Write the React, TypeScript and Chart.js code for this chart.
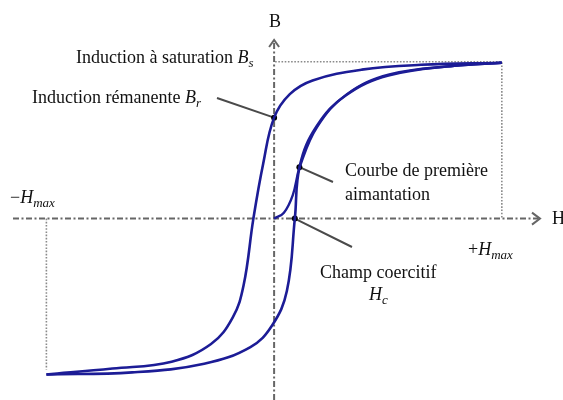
import React, { useEffect, useRef } from "react";
import { Chart, registerables } from "chart.js";

Chart.register(...registerables);

// H in units of Hmax, B in units of Bs
const descendingH = [1.0, 0.645, 0.385, 0.169, 0.069, 0.0, -0.048, -0.091, -0.134, -0.182, -0.277, -0.45, -0.71, -1.0];
const descendingB = [1.0, 0.987, 0.956, 0.887, 0.799, 0.648, 0.352, 0.0, -0.428, -0.635, -0.805, -0.918, -0.962, -1.0];

const ascendingH = [-1.0, -0.623, -0.307, -0.104, -0.009, 0.056, 0.091, 0.113, 0.186, 0.316, 0.502, 0.792, 1.0];
const ascendingB = [-1.0, -0.987, -0.931, -0.824, -0.686, -0.465, 0.0, 0.34, 0.591, 0.792, 0.918, 0.981, 1.0];

const virginH = [0.0, 0.043, 0.082, 0.113, 0.19, 0.32, 0.506, 0.792, 1.0];
const virginB = [0.0, 0.038, 0.151, 0.333, 0.591, 0.799, 0.925, 0.981, 1.0];

// marked points: remanence Br, first-magnetisation point, coercive field Hc
const markerH = [0.0, 0.111, 0.091];
const markerB = [0.648, 0.33, 0.0];

const H_MAX = 1;
const B_SAT = 1;

const zip = (h: number[], b: number[]) => h.map((x, i) => ({ x, y: b[i] }));

type Run = { t: string; italic?: boolean; sub?: boolean };

const SERIF = '"Liberation Serif", "DejaVu Serif", serif';
const FS = 18;
const SUB = 13;

function drawRuns(ctx: CanvasRenderingContext2D, x: number, y: number, runs: Run[], align: "left" | "center" = "left") {
  const fontOf = (r: Run) => `${r.italic ? "italic " : ""}${r.sub ? SUB : FS}px ${SERIF}`;
  let total = 0;
  for (const r of runs) {
    ctx.font = fontOf(r);
    total += ctx.measureText(r.t).width;
  }
  let cx = align === "center" ? x - total / 2 : x;
  ctx.textAlign = "left";
  ctx.textBaseline = "alphabetic";
  for (const r of runs) {
    ctx.font = fontOf(r);
    ctx.fillText(r.t, cx, r.sub ? y + 4 : y);
    cx += ctx.measureText(r.t).width;
  }
}

const decorPlugin = {
  id: "decor",
  beforeDatasetsDraw(chart: any) {
    const ctx: CanvasRenderingContext2D = chart.ctx;
    const xs = chart.scales.x;
    const ys = chart.scales.y;
    const px = (v: number) => xs.getPixelForValue(v);
    const py = (v: number) => ys.getPixelForValue(v);
    const x0 = px(0);
    const y0 = py(0);

    ctx.save();
    // dotted guide lines to saturation
    ctx.strokeStyle = "#8a8a8a";
    ctx.lineWidth = 1.6;
    ctx.setLineDash([1.6, 1.6]);
    ctx.beginPath();
    ctx.moveTo(x0 + 1, py(B_SAT) - 1);
    ctx.lineTo(px(H_MAX), py(B_SAT) - 1);
    ctx.lineTo(px(H_MAX), y0);
    ctx.moveTo(px(-H_MAX), y0);
    ctx.lineTo(px(-H_MAX), py(-B_SAT) - 5);
    ctx.stroke();

    // axes (dash-dot)
    ctx.strokeStyle = "#666";
    ctx.lineWidth = 2;
    ctx.setLineDash([6, 2.5, 2, 2.5]);
    ctx.beginPath();
    ctx.moveTo(13, y0);
    ctx.lineTo(538, y0);
    ctx.moveTo(x0, chart.height);
    ctx.lineTo(x0, 42);
    ctx.stroke();
    ctx.setLineDash([]);
    // arrow heads
    ctx.beginPath();
    ctx.moveTo(532, y0 - 6);
    ctx.lineTo(540, y0);
    ctx.lineTo(532, y0 + 6);
    ctx.moveTo(x0 - 5, 47);
    ctx.lineTo(x0, 40);
    ctx.lineTo(x0 + 5, 47);
    ctx.stroke();

    // pointer lines
    ctx.strokeStyle = "#4a4a4a";
    ctx.lineWidth = 2;
    ctx.beginPath();
    ctx.moveTo(217, 98);
    ctx.lineTo(px(markerH[0]), py(markerB[0]));
    ctx.moveTo(px(markerH[1]), py(markerB[1]));
    ctx.lineTo(333, 182);
    ctx.moveTo(px(markerH[2]), py(markerB[2]));
    ctx.lineTo(352, 247);
    ctx.stroke();
    ctx.restore();
  },
  afterDraw(chart: any) {
    const ctx: CanvasRenderingContext2D = chart.ctx;
    ctx.save();
    ctx.fillStyle = "#111";
    drawRuns(ctx, 275, 27, [{ t: "B" }], "center");
    drawRuns(ctx, 76, 63, [{ t: "Induction à saturation " }, { t: "B", italic: true }, { t: "s", italic: true, sub: true }]);
    drawRuns(ctx, 32, 103, [{ t: "Induction rémanente " }, { t: "B", italic: true }, { t: "r", italic: true, sub: true }]);
    drawRuns(ctx, 10, 203, [{ t: "−" }, { t: "H", italic: true }, { t: "max", italic: true, sub: true }]);
    drawRuns(ctx, 345, 176, [{ t: "Courbe de première" }]);
    drawRuns(ctx, 345, 200, [{ t: "aimantation" }]);
    drawRuns(ctx, 468, 255, [{ t: "+" }, { t: "H", italic: true }, { t: "max", italic: true, sub: true }]);
    drawRuns(ctx, 320, 278, [{ t: "Champ coercitif" }]);
    drawRuns(ctx, 369, 300, [{ t: "H", italic: true }, { t: "c", italic: true, sub: true }]);
    drawRuns(ctx, 552, 224, [{ t: "H" }]);
    ctx.restore();
  },
};

export default function App() {
  const ref = useRef<HTMLCanvasElement | null>(null);
  useEffect(() => {
    document.body.style.margin = "0";
    if (!ref.current) return;
    const curve = "#1c1c96";
    const line = { showLine: true, borderColor: curve, pointRadius: 0, tension: 0.4, fill: false };
    const chart = new Chart(ref.current, {
      type: "scatter",
      data: {
        datasets: [
          { ...line, data: zip(descendingH, descendingB), borderWidth: 2.6 },
          { ...line, data: zip(ascendingH, ascendingB), borderWidth: 2.6 },
          { ...line, data: zip(virginH, virginB), borderWidth: 2.4 },
          { data: zip(markerH, markerB), showLine: false, pointRadius: 3, pointBackgroundColor: "#000", pointBorderWidth: 0 },
        ],
      },
      options: {
        animation: false,
        responsive: false,
        maintainAspectRatio: false,
        layout: { padding: 0 },
        plugins: { legend: { display: false }, tooltip: { enabled: false } },
        events: [],
        scales: {
          x: { type: "linear", display: false, min: -274 / 231, max: 289 / 231 },
          y: { type: "linear", display: false, min: -181 / 159, max: 219 / 159 },
        },
      },
      plugins: [decorPlugin],
    });
    return () => chart.destroy();
  }, []);
  return (
    <div style={{ position: "absolute", left: 0, top: 0, width: 563, height: 400, background: "#fff" }}>
      <canvas ref={ref} width={563} height={400} style={{ display: "block", width: 563, height: 400 }} />
    </div>
  );
}
